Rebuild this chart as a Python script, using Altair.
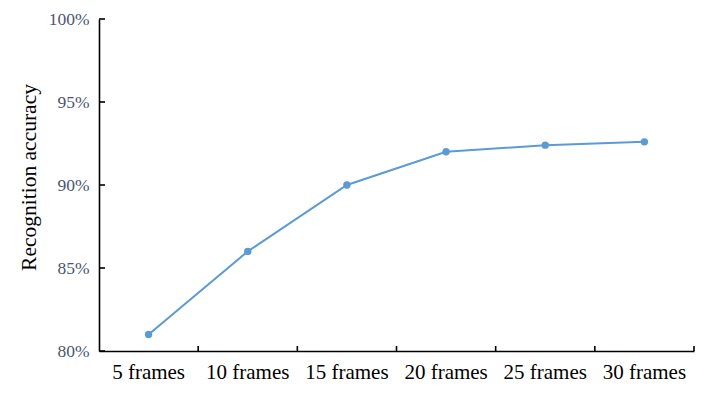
import altair as alt
import pandas as pd

frames = ["5 frames", "10 frames", "15 frames", "20 frames", "25 frames", "30 frames"]
accuracy = [0.810, 0.860, 0.900, 0.920, 0.924, 0.926]
y_ticks = [0.80, 0.85, 0.90, 0.95, 1.00]

df = pd.DataFrame({"frames": frames, "accuracy": accuracy})
df_xt = pd.DataFrame({"frames": frames})
df_yt = pd.DataFrame({"v": y_ticks})

W, H = 595, 332
BLUE = "#5B9BD5"
FONT = "Liberation Serif"

xscale = alt.Scale(domain=frames, paddingInner=0, paddingOuter=0)
yscale = alt.Scale(domain=[0.8, 1.0], zero=False, nice=False)

x_enc = alt.X("frames:N", scale=xscale, sort=frames, title=None,
              axis=alt.Axis(ticks=False, domainColor="black", domainWidth=1.6,
                            labelAngle=0, labelFont=FONT, labelFontSize=21,
                            labelColor="black", labelPadding=10, grid=False))
y_enc = alt.Y("accuracy:Q", scale=yscale, title="Recognition accuracy",
              axis=alt.Axis(values=y_ticks, format=".0%", ticks=False,
                            domainColor="black", domainWidth=1.6,
                            labelFont=FONT, labelFontSize=17.5, labelColor="#4a5670",
                            labelPadding=10, grid=False,
                            titleFont=FONT, titleFontSize=21.5, titleFontWeight="normal",
                            titleColor="black", titleAngle=-90, titleX=-70, titleY=158,
                            titleAlign="center", titleBaseline="middle"))

line = alt.Chart(df).mark_line(
    color=BLUE, strokeWidth=2, interpolate="linear",
    point=alt.OverlayMarkDef(color=BLUE, filled=True, size=55, opacity=1)
).encode(x=x_enc, y=y_enc)

xticks = alt.Chart(df_xt).mark_rule(color="black", strokeWidth=1.6).encode(
    x=alt.X("frames:N", scale=xscale, sort=frames, bandPosition=1),
    y=alt.value(H), y2=alt.value(H - 5)
)

yticks = alt.Chart(df_yt).mark_rule(color="black", strokeWidth=1.6).encode(
    y=alt.Y("v:Q", scale=yscale),
    x=alt.value(0), x2=alt.value(6)
)

chart = alt.layer(line, xticks, yticks).properties(
    width=W, height=H,
    autosize=alt.AutoSizeParams(type="none"),
    padding={"left": 91, "top": 11, "right": 7, "bottom": 34},
    background="white"
).configure_view(stroke=None)

chart.save("out.html", embed_options={"renderer": "svg", "actions": False})
